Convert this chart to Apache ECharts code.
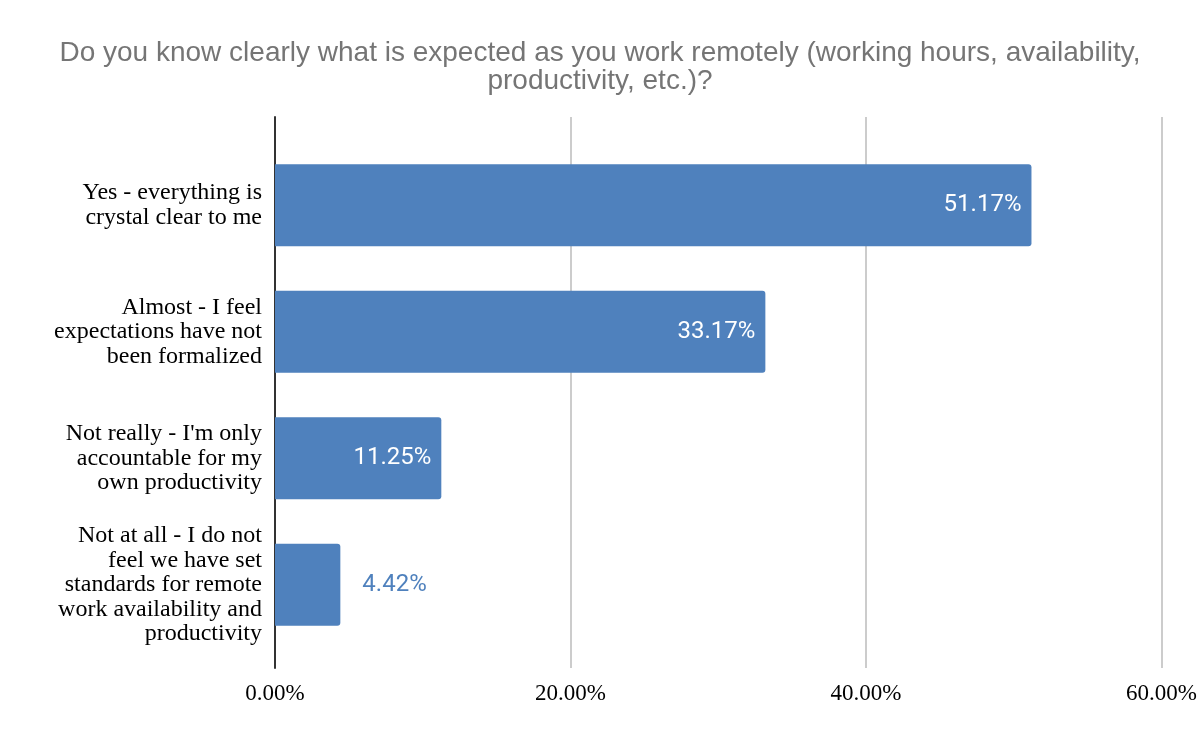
<!DOCTYPE html>
<html>
<head>
<meta charset="utf-8">
<script src="https://cdn.jsdelivr.net/npm/echarts@6/dist/echarts.min.js"></script>
<style>
  html, body { margin: 0; padding: 0; background: #fff; }
  #grafica { width: 1200px; height: 742px; }
</style>
</head>
<body>
<div id="grafica"></div>
<script>
const titulo = "Do you know clearly what is expected as you work remotely (working hours, availability,\nproductivity, etc.)?";
const categorias = [
  "Yes - everything is\ncrystal clear to me",
  "Almost - I feel\nexpectations have not\nbeen formalized",
  "Not really - I'm only\naccountable for my\nown productivity",
  "Not at all - I do not\nfeel we have set\nstandards for remote\nwork availability and\nproductivity",
];
const valores = [51.17, 33.17, 11.25, 4.42];
const ticks = [0, 20, 40, 60];

const azul = "#4f81bd";
const serif = "'Liberation Serif', 'Times New Roman', serif";
const sans = "Roboto, 'Liberation Sans', Arial, sans-serif";

const getOptionChart = () => {
  return {
    backgroundColor: "#fff",
    animation: false,
    title: {
      text: titulo,
      left: "center",
      top: 34,
      textStyle: {
        color: "#757575",
        fontFamily: "'Liberation Sans', Arial, sans-serif",
        fontWeight: "normal",
        fontSize: 28,
        lineHeight: 28,
        align: "center",
      },
    },
    grid: [
      // frame: gridlines + left axis
      { left: 275, right: 38, top: 117, bottom: 74 },
      // bars
      { left: 275, right: 38, top: 142, bottom: 94 },
    ],
    xAxis: [
      {
        gridIndex: 0,
        type: "value",
        min: ticks[0],
        max: ticks[ticks.length - 1],
        interval: 20,
        axisLine: { show: false },
        axisTick: { show: false },
        splitLine: { lineStyle: { color: "#cccccc", width: 2 } },
        axisLabel: {
          margin: 14,
          color: "#000",
          fontFamily: serif,
          fontSize: 23,
          formatter: (v) => v.toFixed(2) + "%",
        },
      },
      {
        gridIndex: 1,
        type: "value",
        min: ticks[0],
        max: ticks[ticks.length - 1],
        show: false,
      },
    ],
    yAxis: [
      {
        gridIndex: 0,
        type: "category",
        data: [""],
        axisLine: { show: true, lineStyle: { color: "#333", width: 2 } },
        axisTick: { show: false },
        axisLabel: { show: false },
      },
      {
        gridIndex: 1,
        type: "category",
        inverse: true,
        data: categorias,
        axisLine: { show: false },
        axisTick: { show: false },
        axisLabel: {
          margin: 13,
          color: "#000",
          fontFamily: serif,
          fontSize: 24,
          lineHeight: 24.5,
          align: "right",
        },
      },
    ],
    series: [
      {
        type: "bar",
        xAxisIndex: 1,
        yAxisIndex: 1,
        barWidth: 82,
        itemStyle: { color: azul, borderRadius: [0, 3, 3, 0] },
        label: {
          show: true,
          position: "insideRight",
          distance: 10,
          color: "#fff",
          fontFamily: sans,
          fontSize: 24,
          formatter: (p) => p.value.toFixed(2) + "%",
        },
        data: valores.map((v) =>
          v < 8
            ? { value: v, label: { position: "right", distance: 22, color: azul } }
            : v
        ),
      },
    ],
  };
};

const initCharts = () => {
  const chart = echarts.init(document.querySelector("#grafica"));
  chart.setOption(getOptionChart());
};

initCharts();
</script>
</body>
</html>
